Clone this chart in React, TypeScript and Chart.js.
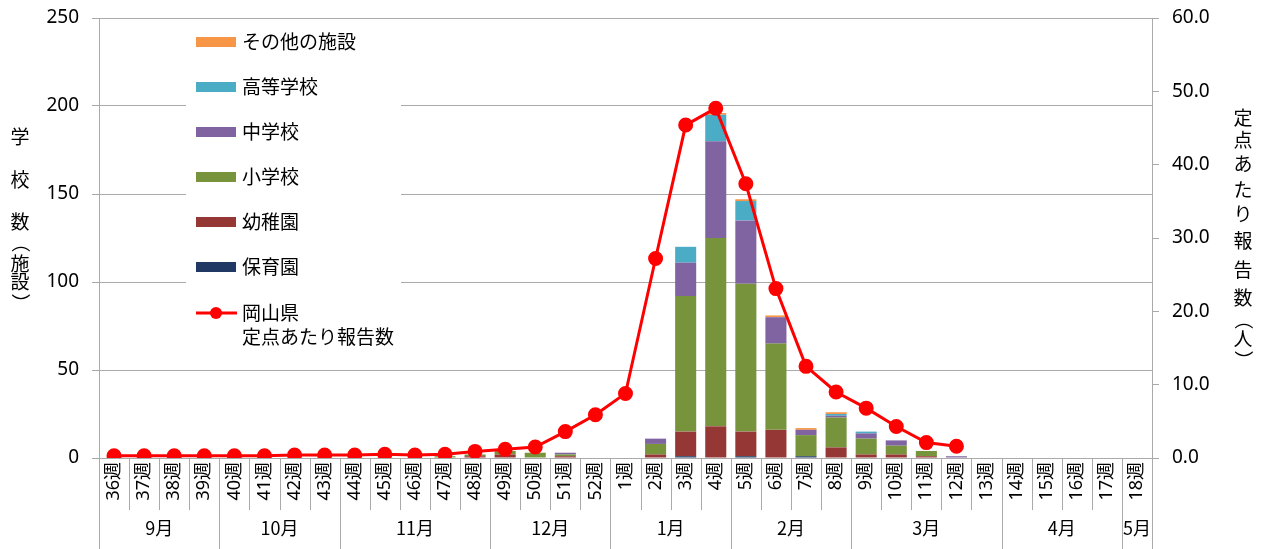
import React, { useEffect, useRef } from 'react';
import { Chart, registerables } from 'chart.js';

Chart.register(...registerables);

const weeks = [
  '36週', '37週', '38週', '39週', '40週', '41週', '42週', '43週', '44週', '45週', '46週', '47週',
  '48週', '49週', '50週', '51週', '52週', '1週', '2週', '3週', '4週', '5週', '6週', '7週', '8週',
  '9週', '10週', '11週', '12週', '13週', '14週', '15週', '16週', '17週', '18週',
];
const months = ['9月', '10月', '11月', '12月', '1月', '2月', '3月', '4月', '5月'];
const monthSpans = [4, 4, 5, 4, 4, 4, 5, 4, 1];

// 保育園
const hoikuen = [0, 0, 0, 0, 0, 0, 0, 0, 0, 0, 0, 0, 0, 0, 0, 0, 0, 0, 0, 1, 0, 1, 0, 1, 0, 0, 0, 0, 0, 0, 0, 0, 0, 0, 0];
// 幼稚園
const youchien = [0, 0, 0, 0, 0, 0, 0, 0, 0, 0, 0, 0, 1, 2, 0, 1, 0, 0, 2, 14, 18, 14, 16, 0, 6, 2, 2, 1, 0, 0, 0, 0, 0, 0, 0];
// 小学校
const shougakkou = [0, 0, 0, 0, 0, 0, 0, 0, 0, 0, 0, 1, 1, 2, 3, 1, 0, 0, 6, 77, 107, 84, 49, 12, 17, 9, 5, 3, 0, 0, 0, 0, 0, 0, 0];
// 中学校
const chuugakkou = [0, 0, 0, 0, 0, 0, 0, 0, 0, 0, 0, 0, 0, 0, 0, 1, 0, 0, 3, 19, 55, 36, 15, 3, 1, 3, 3, 0, 1, 0, 0, 0, 0, 0, 0];
// 高等学校
const koutougakkou = [0, 0, 0, 0, 0, 0, 0, 0, 0, 0, 0, 0, 0, 0, 0, 0, 0, 0, 0, 9, 15, 11, 0, 0, 1, 1, 0, 0, 0, 0, 0, 0, 0, 0, 0];
// その他の施設
const sonota = [0, 0, 0, 0, 0, 0, 0, 0, 0, 0, 0, 0, 0, 0, 0, 0, 0, 0, 0, 0, 1, 1, 1, 1, 1, 0, 0, 0, 0, 0, 0, 0, 0, 0, 0];
// 岡山県 定点あたり報告数
const reportRate = [
  0.3, 0.3, 0.3, 0.3, 0.3, 0.3, 0.4, 0.4, 0.4, 0.5, 0.4, 0.5, 0.9, 1.2, 1.5, 3.6, 5.9, 8.8,
  27.2, 45.4, 47.7, 37.4, 23.1, 12.5, 9.0, 6.8, 4.3, 2.1, 1.6, null, null, null, null, null, null,
];

const leftTitle = ['学', '校', '数', '（', '施', '設', '）'];
const rightTitle = ['定', '点', 'あ', 'た', 'り', '報', '告', '数', '（', '人', '）'];

const NUM_FONT = '"Noto Sans", "Noto Sans CJK JP", sans-serif';
const CJK_FONT = '"Noto Sans CJK JP", "Noto Sans", sans-serif';
const GRID = '#aaaaaa';

function drawVertical(ctx: CanvasRenderingContext2D, chars: string[], x: number, ys: number[]) {
  chars.forEach((c, i) => {
    ctx.save();
    ctx.translate(x, ys[i]);
    if (c === '（' || c === '）') ctx.rotate(Math.PI / 2);
    ctx.fillText(c, 0, 0);
    ctx.restore();
  });
}

const decorPlugin = {
  id: 'decor',
  beforeDatasetsDraw(chart: any) {
    const ctx: CanvasRenderingContext2D = chart.ctx;
    ctx.save();
    ctx.fillStyle = '#ffffff';
    ctx.fillRect(186, 24, 215, 330);
    const bars = chart.data.datasets.filter((d: any) => d.type !== 'line').slice().reverse();
    ctx.font = `19px ${CJK_FONT}`;
    ctx.textBaseline = 'middle';
    ctx.textAlign = 'left';
    bars.forEach((d: any, i: number) => {
      const y = 42 + i * 45;
      ctx.fillStyle = d.backgroundColor;
      ctx.fillRect(196, y - 5, 40, 10);
      ctx.fillStyle = '#000';
      ctx.fillText(d.label, 242, y);
    });
    const line = chart.data.datasets.find((d: any) => d.type === 'line');
    if (line) {
      const y = 313;
      ctx.strokeStyle = line.borderColor;
      ctx.lineWidth = 3;
      ctx.beginPath();
      ctx.moveTo(196, y);
      ctx.lineTo(237, y);
      ctx.stroke();
      ctx.fillStyle = line.borderColor;
      ctx.beginPath();
      ctx.arc(216, y, 6, 0, Math.PI * 2);
      ctx.fill();
      ctx.fillStyle = '#000';
      const parts = String(line.label).split('\n');
      parts.forEach((p: string, k: number) => ctx.fillText(p, 242, y + k * 24));
    }
    ctx.restore();
  },
  afterDraw(chart: any) {
    const ctx: CanvasRenderingContext2D = chart.ctx;
    const xs = chart.scales.x;
    const area = chart.chartArea;
    const w = xs.getPixelForValue(1) - xs.getPixelForValue(0);
    const x0 = xs.getPixelForValue(0) - w / 2;
    const H = chart.height;
    ctx.save();
    ctx.strokeStyle = GRID;
    ctx.lineWidth = 1;
    for (let i = 0; i <= weeks.length; i++) {
      const x = Math.round(x0 + i * w) + 0.5;
      ctx.beginPath();
      ctx.moveTo(x, area.bottom);
      ctx.lineTo(x, 510);
      ctx.stroke();
    }
    let acc = 0;
    ctx.font = `18px ${CJK_FONT}`;
    ctx.fillStyle = '#000';
    ctx.textAlign = 'center';
    ctx.textBaseline = 'middle';
    const bounds = [0];
    monthSpans.forEach((s) => { acc += s; bounds.push(acc); });
    bounds.forEach((b) => {
      const x = Math.round(x0 + b * w) + 0.5;
      ctx.beginPath();
      ctx.moveTo(x, area.bottom);
      ctx.lineTo(x, H);
      ctx.stroke();
    });
    months.forEach((m, i) => {
      const cx = x0 + ((bounds[i] + bounds[i + 1]) / 2) * w;
      ctx.fillText(m, cx, 528);
    });
    ctx.font = `19px ${CJK_FONT}`;
    drawVertical(ctx, leftTitle, 20, [137, 180, 222, 243, 264, 282, 303]);
    drawVertical(ctx, rightTitle, 1243, [118, 140, 164, 190, 214, 241, 270, 298, 320, 339, 360]);
    ctx.restore();
  },
};

export default function App() {
  const ref = useRef<HTMLCanvasElement | null>(null);
  useEffect(() => {
    if (!ref.current) return;
    const barBase = { type: 'bar' as const, yAxisID: 'y', stack: 's', order: 2, borderWidth: 0 };
    const chart = new Chart(ref.current, {
      type: 'bar',
      data: {
        labels: weeks,
        datasets: [
          { ...barBase, label: '保育園', data: hoikuen, backgroundColor: '#1F3864' },
          { ...barBase, label: '幼稚園', data: youchien, backgroundColor: '#953735' },
          { ...barBase, label: '小学校', data: shougakkou, backgroundColor: '#77933C' },
          { ...barBase, label: '中学校', data: chuugakkou, backgroundColor: '#8064A2' },
          { ...barBase, label: '高等学校', data: koutougakkou, backgroundColor: '#4BACC6' },
          { ...barBase, label: 'その他の施設', data: sonota, backgroundColor: '#F79646' },
          {
            type: 'line' as const,
            label: '岡山県\n定点あたり報告数',
            data: reportRate,
            yAxisID: 'y1',
            order: 0,
            borderColor: '#FF0000',
            backgroundColor: '#FF0000',
            borderWidth: 3,
            pointRadius: 6,
            pointHoverRadius: 6,
            pointBackgroundColor: '#FF0000',
            pointBorderColor: '#FF0000',
            tension: 0,
            spanGaps: false,
          } as any,
        ],
      },
      options: {
        responsive: false,
        animation: false,
        maintainAspectRatio: false,
        layout: { padding: { top: 18, left: 0, right: 0, bottom: 0 } },
        datasets: { bar: { categoryPercentage: 1, barPercentage: 0.7 } },
        plugins: { legend: { display: false }, tooltip: { enabled: false } },
        scales: {
          x: {
            stacked: true,
            offset: true,
            grid: { display: false, drawTicks: false },
            border: { display: true, color: GRID },
            ticks: {
              autoSkip: false,
              minRotation: 90,
              maxRotation: 90,
              padding: 4,
              color: '#000',
              font: { size: 18, family: NUM_FONT },
            },
            afterFit: (s: any) => { s.height = 91; s.paddingLeft = 0; s.paddingRight = 0; },
          },
          y: {
            position: 'left',
            stacked: true,
            min: 0,
            max: 250,
            ticks: { stepSize: 50, padding: 13, color: '#000', font: { size: 19, family: NUM_FONT } },
            grid: { color: GRID, tickLength: 7 },
            border: { display: true, color: GRID },
            afterFit: (s: any) => { s.width = 99; s.paddingTop = 0; s.paddingBottom = 0; },
          },
          y1: {
            position: 'right',
            min: 0,
            max: 60,
            ticks: {
              stepSize: 10,
              padding: 13,
              color: '#000',
              font: { size: 19, family: NUM_FONT },
              callback: (v: any) => Number(v).toFixed(1),
            },
            grid: { drawOnChartArea: false, color: GRID, tickLength: 7 },
            border: { display: true, color: GRID },
            afterFit: (s: any) => { s.width = 111; s.paddingTop = 0; s.paddingBottom = 0; },
          },
        },
      } as any,
      plugins: [decorPlugin],
    });
    return () => chart.destroy();
  }, []);
  return (
    <div style={{ position: 'fixed', left: 0, top: 0, width: 1263, height: 549, background: '#fff' }}>
      <canvas ref={ref} width={1263} height={549} style={{ display: 'block' }} />
    </div>
  );
}
